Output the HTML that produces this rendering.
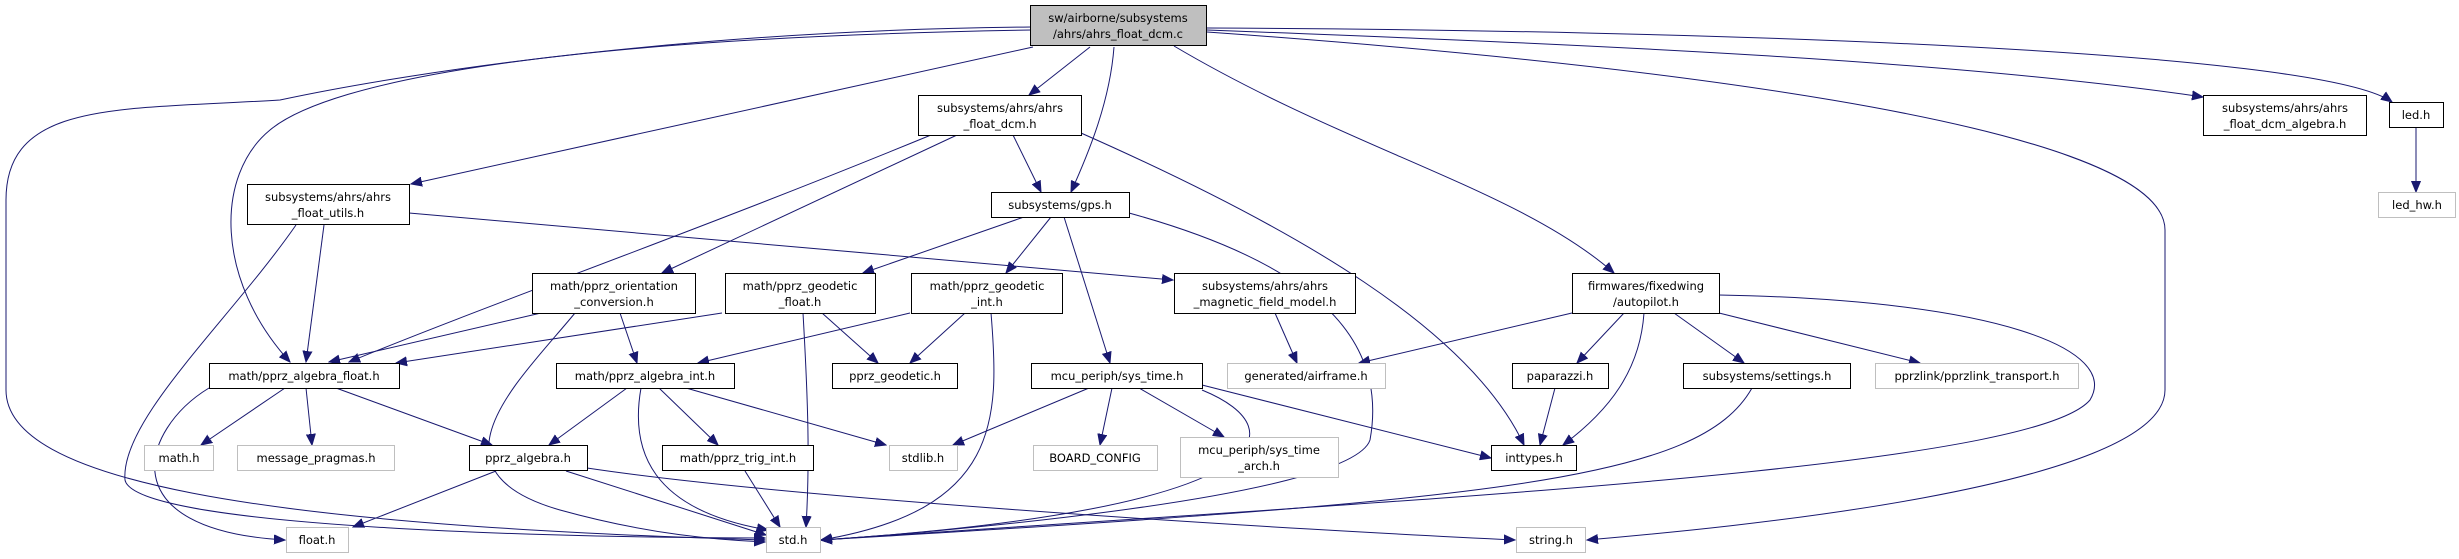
<!DOCTYPE html>
<html><head><meta charset="utf-8"><style>
html,body{margin:0;padding:0;background:#fff;}
svg{display:block;}
text{font-family:"DejaVu Sans","Liberation Sans",sans-serif;font-size:11.5px;fill:#000;text-anchor:middle;}
.e{fill:none;stroke:#191970;stroke-width:1;}
.b{fill:#fff;stroke:#000;stroke-width:1;}
.g{fill:#fff;stroke:#bfbfbf;stroke-width:1;}
</style></head><body>
<svg width="2459" height="559" viewBox="0 0 2459 559" xmlns="http://www.w3.org/2000/svg">
<defs>
<marker id="a" markerUnits="userSpaceOnUse" markerWidth="12" markerHeight="10" refX="11" refY="5" orient="auto">
<path d="M0,0.5 L11,5 L0,9.5 z" fill="#191970" stroke="#191970"/>
</marker>
</defs>
<g marker-end="url(#a)">
<path class="e" d="M1031,27 C700,30 420,70 280,100 C120,110 6,100 6,200 L6,390 C6,480 250,525 765,540"/>
<path class="e" d="M1031,30 C560,38 330,80 270,130 C215,175 215,280 290,362"/>
<path class="e" d="M1033,47 L411,184"/>
<path class="e" d="M1090,47 L1029,95"/>
<path class="e" d="M1114,47 C1110,100 1090,150 1071,192"/>
<path class="e" d="M1174,46 C1350,150 1520,190 1614,273"/>
<path class="e" d="M1207,30 C1600,45 1950,60 2203,97"/>
<path class="e" d="M1207,28 C1700,30 2320,50 2392,102"/>
<path class="e" d="M1207,32 C1600,60 2165,120 2165,230 L2165,390 C2165,490 1700,530 1587,540"/>
<path class="e" d="M1013,135 L1041,192"/>
<path class="e" d="M931,135 C700,230 500,300 349,362"/>
<path class="e" d="M957,135 L662,273"/>
<path class="e" d="M1081,133 C1300,230 1470,330 1524,445"/>
<path class="e" d="M324,225 L306,362"/>
<path class="e" d="M296,225 C230,320 120,420 125,480 C135,530 600,538 765,538"/>
<path class="e" d="M409,213 L1173,280"/>
<path class="e" d="M1024,217 L863,273"/>
<path class="e" d="M1051,217 L1006,273"/>
<path class="e" d="M1064,217 L1110,363"/>
<path class="e" d="M1129,213 C1300,260 1390,330 1370,440 C1350,500 900,535 821,540"/>
<path class="e" d="M541,313 L329,362"/>
<path class="e" d="M620,313 L637,363"/>
<path class="e" d="M575,313 C520,380 420,470 560,510 C650,535 720,540 765,542"/>
<path class="e" d="M722,313 L396,363"/>
<path class="e" d="M822,313 L878,363"/>
<path class="e" d="M803,313 C808,400 810,460 806,527"/>
<path class="e" d="M910,313 L698,363"/>
<path class="e" d="M965,313 L910,363"/>
<path class="e" d="M991,313 C1000,420 1000,510 821,540"/>
<path class="e" d="M285,388 L201,445"/>
<path class="e" d="M306,388 L312,445"/>
<path class="e" d="M336,388 L492,445"/>
<path class="e" d="M209,388 C140,430 110,530 285,540"/>
<path class="e" d="M627,388 L549,445"/>
<path class="e" d="M659,388 L718,445"/>
<path class="e" d="M686,388 L886,445"/>
<path class="e" d="M641,388 C630,450 650,510 768,530"/>
<path class="e" d="M496,471 L353,527"/>
<path class="e" d="M566,471 L766,535"/>
<path class="e" d="M587,468 C800,500 1300,530 1515,540"/>
<path class="e" d="M745,471 L780,527"/>
<path class="e" d="M1089,388 L953,445"/>
<path class="e" d="M1112,388 L1100,445"/>
<path class="e" d="M1139,388 L1224,437"/>
<path class="e" d="M1202,385 L1491,458"/>
<path class="e" d="M1202,390 C1300,430 1280,510 821,540"/>
<path class="e" d="M1275,313 L1297,363"/>
<path class="e" d="M1572,313 L1359,363"/>
<path class="e" d="M1624,313 L1577,363"/>
<path class="e" d="M1644,313 C1640,370 1610,410 1563,445"/>
<path class="e" d="M1674,313 L1744,363"/>
<path class="e" d="M1719,313 L1920,363"/>
<path class="e" d="M1719,295 C2000,300 2120,350 2090,400 C2030,470 1400,500 821,540"/>
<path class="e" d="M1555,388 L1540,445"/>
<path class="e" d="M1752,388 C1700,480 1500,500 821,540"/>
<path class="e" d="M2416,128 L2416,192"/>
</g>

<rect x="1030.5" y="5.5" width="176" height="40" fill="#bfbfbf" stroke="#000"/>
<text x="1118" y="22">sw/airborne/subsystems</text><text x="1118" y="38">/ahrs/ahrs_float_dcm.c</text>
<rect class="b" x="918.5" y="95.5" width="163" height="40"/>
<text x="1000" y="112">subsystems/ahrs/ahrs</text><text x="1000" y="128">_float_dcm.h</text>
<rect class="b" x="247.5" y="184.5" width="162" height="40"/>
<text x="328" y="201">subsystems/ahrs/ahrs</text><text x="328" y="217">_float_utils.h</text>
<rect class="b" x="991.5" y="192.5" width="138" height="25"/>
<text x="1060" y="209">subsystems/gps.h</text>
<rect class="b" x="2203.5" y="95.5" width="163" height="40"/>
<text x="2285" y="112">subsystems/ahrs/ahrs</text><text x="2285" y="128">_float_dcm_algebra.h</text>
<rect class="b" x="2389.5" y="102.5" width="54" height="25"/>
<text x="2416" y="119">led.h</text>
<rect class="g" x="2378.5" y="192.5" width="77" height="25"/>
<text x="2417" y="209">led_hw.h</text>
<rect class="b" x="532.5" y="273.5" width="163" height="40"/>
<text x="614" y="290">math/pprz_orientation</text><text x="614" y="306">_conversion.h</text>
<rect class="b" x="725.5" y="273.5" width="150" height="40"/>
<text x="800" y="290">math/pprz_geodetic</text><text x="800" y="306">_float.h</text>
<rect class="b" x="911.5" y="273.5" width="151" height="40"/>
<text x="987" y="290">math/pprz_geodetic</text><text x="987" y="306">_int.h</text>
<rect class="b" x="1174.5" y="273.5" width="181" height="40"/>
<text x="1265" y="290">subsystems/ahrs/ahrs</text><text x="1265" y="306">_magnetic_field_model.h</text>
<rect class="b" x="1572.5" y="273.5" width="147" height="40"/>
<text x="1646" y="290">firmwares/fixedwing</text><text x="1646" y="306">/autopilot.h</text>
<rect class="b" x="209.5" y="363.5" width="190" height="25"/>
<text x="304" y="380">math/pprz_algebra_float.h</text>
<rect class="b" x="556.5" y="363.5" width="178" height="25"/>
<text x="645" y="380">math/pprz_algebra_int.h</text>
<rect class="b" x="832.5" y="363.5" width="125" height="25"/>
<text x="895" y="380">pprz_geodetic.h</text>
<rect class="b" x="1031.5" y="363.5" width="171" height="25"/>
<text x="1117" y="380">mcu_periph/sys_time.h</text>
<rect class="g" x="1227.5" y="363.5" width="158" height="25"/>
<text x="1306" y="380">generated/airframe.h</text>
<rect class="b" x="1512.5" y="363.5" width="96" height="25"/>
<text x="1560" y="380">paparazzi.h</text>
<rect class="b" x="1683.5" y="363.5" width="167" height="25"/>
<text x="1767" y="380">subsystems/settings.h</text>
<rect class="g" x="1875.5" y="363.5" width="203" height="25"/>
<text x="1977" y="380">pprzlink/pprzlink_transport.h</text>
<rect class="g" x="144.5" y="445.5" width="69" height="25"/>
<text x="179" y="462">math.h</text>
<rect class="g" x="237.5" y="445.5" width="157" height="25"/>
<text x="316" y="462">message_pragmas.h</text>
<rect class="b" x="469.5" y="445.5" width="118" height="25"/>
<text x="528" y="462">pprz_algebra.h</text>
<rect class="b" x="662.5" y="445.5" width="151" height="25"/>
<text x="738" y="462">math/pprz_trig_int.h</text>
<rect class="g" x="889.5" y="445.5" width="68" height="25"/>
<text x="923" y="462">stdlib.h</text>
<rect class="g" x="1033.5" y="445.5" width="124" height="25"/>
<text x="1095" y="462">BOARD_CONFIG</text>
<rect class="g" x="1180.5" y="437.5" width="158" height="40"/>
<text x="1259" y="454">mcu_periph/sys_time</text><text x="1259" y="470">_arch.h</text>
<rect class="b" x="1491.5" y="445.5" width="85" height="25"/>
<text x="1534" y="462">inttypes.h</text>
<rect class="g" x="286.5" y="527.5" width="62" height="25"/>
<text x="317" y="544">float.h</text>
<rect class="g" x="766.5" y="527.5" width="54" height="25"/>
<text x="793" y="544">std.h</text>
<rect class="g" x="1516.5" y="527.5" width="69" height="25"/>
<text x="1551" y="544">string.h</text>
</svg>
</body></html>
